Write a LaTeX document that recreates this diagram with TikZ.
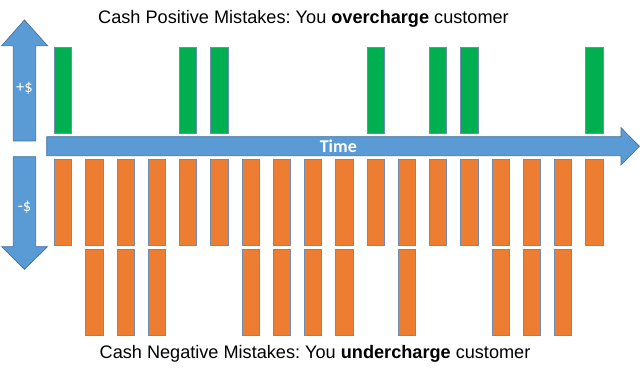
\documentclass[tikz,border=0pt]{standalone}
\usepackage{fontspec}
\setmainfont{Liberation Sans}
\newfontfamily\calfont{Carlito}
\definecolor{cblue}{HTML}{5B9BD5}
\definecolor{cbluedark}{HTML}{41719C}
\definecolor{cgreen}{HTML}{00B050}
\definecolor{corange}{HTML}{ED7D31}
\definecolor{cedge}{RGB}{110,140,180}
\frenchspacing
\begin{document}
\begin{tikzpicture}[x=0.75pt,y=-0.75pt,
  barbox/.style={draw=cedge,line width=0.6pt,minimum width=13pt,minimum height=64.2pt,inner sep=0pt,outer sep=0pt},
  gbar/.style={barbox,fill=cgreen},
  obar/.style={barbox,fill=corange},
  bigarrow/.style={fill=cblue,draw=cbluedark,line width=0.5pt},
  caption/.style={font=\fontsize{13.6pt}{15pt}\selectfont,anchor=base,inner sep=0pt},
  arrowlabel/.style={text=white,font=\calfont\fontsize{12.4pt}{14pt}\selectfont,inner sep=0pt}]
\useasboundingbox (0,0) rectangle (640,373);
% vertical arrows
\path[bigarrow] (13.3,141) -- (13.3,45.7) -- (1.7,45.7) -- (24.5,20) -- (47.5,45.7) -- (35.7,45.7) -- (35.7,141) -- cycle;
\path[bigarrow] (13.3,156.7) -- (13.3,246.7) -- (1.7,246.7) -- (24.5,269.3) -- (47.5,246.7) -- (35.7,246.7) -- (35.7,156.7) -- cycle;
\node[arrowlabel] (plus) at (24.5,88) {+\$};
\node[arrowlabel] (minus) at (24.5,207) {-\$};
% time arrow
\path[bigarrow] (46.7,136.7) -- (621,136.7) -- (621,127.7) -- (639.4,146.3) -- (621,165) -- (621,155.7) -- (46.7,155.7) -- cycle;
\node[text=white,font=\calfont\bfseries\fontsize{13.5pt}{15pt}\selectfont,inner sep=0pt] (time) at (338.3,146.5) {Time};
% green bars
\foreach \i in {0,4,5,10,12,13,17}{
  \node[gbar] (g\i) at ({63.1+31.25*\i},90.5) {};
}
% orange bars row 1
\foreach \i in {0,...,17}{
  \node[obar] (o\i) at ({63.1+31.25*\i},202.2) {};
}
% orange bars row 2
\foreach \i in {1,2,3,6,7,8,9,11,14,15,16}{
  \node[obar] (p\i) at ({63.1+31.25*\i},292.5) {};
}
% captions
\node[caption] (top) at (303.5,23.3) {Cash Positive Mistakes: You \textbf{overcharge} customer};
\node[caption] (bottom) at (315,358.3) {Cash Negative Mistakes: You \textbf{undercharge} customer};
\end{tikzpicture}
\end{document}
